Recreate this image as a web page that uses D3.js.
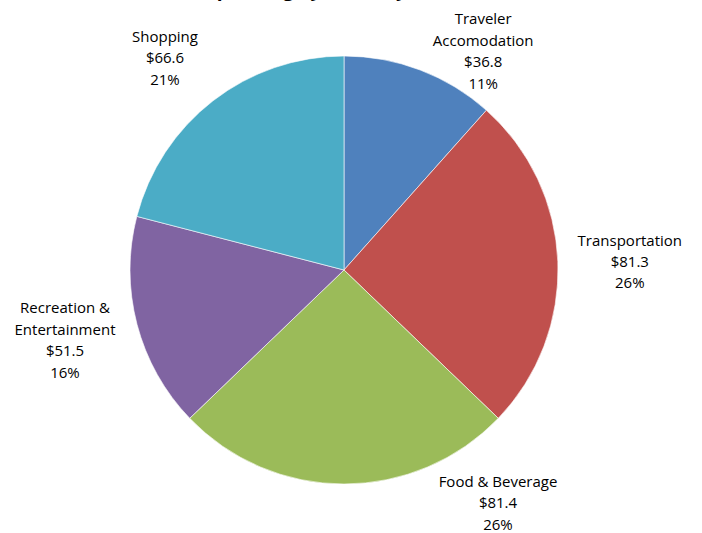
<!DOCTYPE html>
<html>
<head>
<meta charset="utf-8">
<script src="https://cdn.jsdelivr.net/npm/d3@7"></script>
<style>
  html, body { margin: 0; padding: 0; background: #ffffff; }
  svg { display: block; }
  text { font-family: "Open Sans", "Liberation Sans", Arial, sans-serif; fill: #000; }
</style>
</head>
<body>
<svg id="chart" width="702" height="533"></svg>
<script>
// ---- data ----
const titleText = "Visitor Spending by Industry, 2012";
const categories = ["Traveler\nAccomodation", "Transportation", "Food & Beverage", "Recreation &\nEntertainment", "Shopping"];
const values = [36.8, 81.3, 81.4, 51.5, 66.6];
const valueLabels = ["$36.8", "$81.3", "$81.4", "$51.5", "$66.6"];
const percentLabels = ["11%", "26%", "26%", "16%", "21%"];
const colors = ["#4F81BD", "#C0504D", "#9BBB59", "#8064A2", "#4BACC6"];

// ---- layout ----
const W = 702, H = 533;
const cx = 344, cy = 270, R = 214;
const labelNudge = [[63, -19], [72, 0], [154, 19], [-72, 16], [-48, -43]];
const lineH = 21.5;

const svg = d3.select("#chart");

svg.append("text")
  .attr("x", 300).attr("y", -4)
  .attr("text-anchor", "middle")
  .style("font-size", "19px").style("font-weight", "bold")
  .text(titleText);

const data = categories.map((c, i) => ({ cat: c, value: values[i], v: valueLabels[i], p: percentLabels[i], color: colors[i], i }));

const pie = d3.pie().value(d => d.value).sort(null);
const arc = d3.arc().innerRadius(0).outerRadius(R);
const arcs = pie(data);

const g = svg.append("g").attr("transform", `translate(${cx},${cy})`);

g.selectAll("path.slice")
  .data(arcs)
  .enter().append("path")
  .attr("class", "slice")
  .attr("d", arc)
  .attr("fill", d => d.data.color)
  .attr("stroke", "#ffffff")
  .attr("stroke-width", 0.6);

// labels
arcs.forEach(a => {
  const mid = (a.startAngle + a.endAngle) / 2;
  const px = R * Math.sin(mid) + labelNudge[a.index][0];
  const py = -R * Math.cos(mid) + labelNudge[a.index][1];
  const lines = a.data.cat.split("\n").concat([a.data.v, a.data.p]);
  const t = g.append("text")
    .attr("text-anchor", "middle")
    .style("font-size", "15px");
  const y0 = py - (lines.length - 1) * lineH / 2;
  lines.forEach((ln, k) => {
    t.append("tspan")
      .attr("x", px)
      .attr("y", y0 + k * lineH)
      .attr("dy", "0.35em")
      .text(ln);
  });
});
</script>
</body>
</html>
